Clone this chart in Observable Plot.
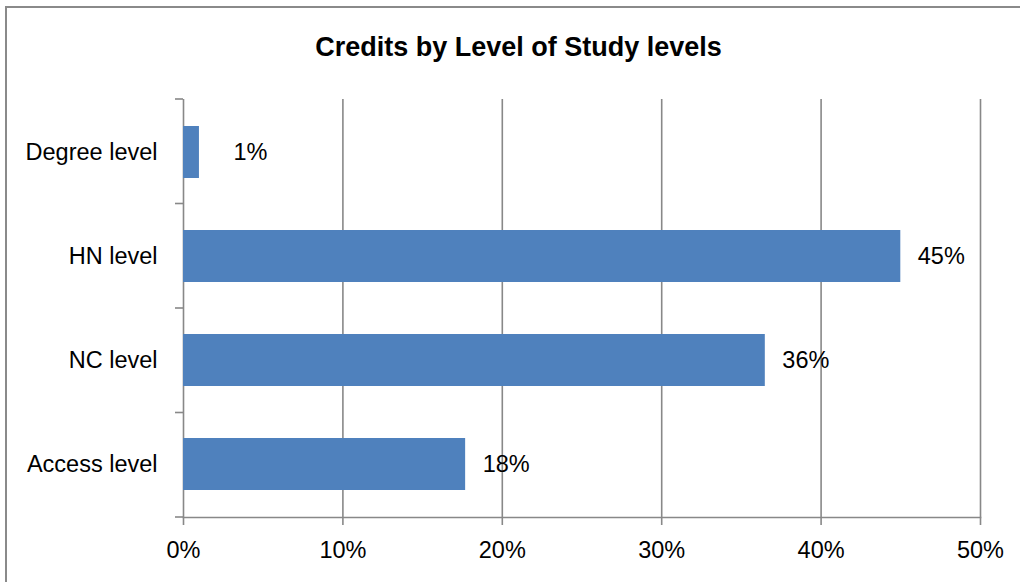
<!DOCTYPE html>
<html>
<head>
<meta charset="utf-8">
<script src="https://cdn.jsdelivr.net/npm/d3@7"></script>
<script src="https://cdn.jsdelivr.net/npm/@observablehq/plot@0.6"></script>
<style>
  html, body { margin: 0; padding: 0; background: #fff; overflow: hidden; }
  #wrap { position: relative; width: 1020px; height: 582px; overflow: hidden; font-family: "Liberation Sans", Arial, sans-serif; }
  #border { position: absolute; left: 5px; top: 6px; width: 1100px; height: 700px; border: 2px solid #8a8a8a; box-sizing: border-box; }
  #title { position: absolute; left: 0; top: 0; width: 1037px; height: 70px; text-align: center; line-height: 94px; font-weight: bold; font-size: 27px; color: #000; }
  #chart { position: absolute; left: 0; top: 70px; }
</style>
</head>
<body>
<div id="wrap">
  <div id="border"></div>
  <div id="title">Credits by Level of Study levels</div>
  <div id="chart"></div>
</div>
<script>
const categories = ["Degree level", "HN level", "NC level", "Access level"];
const values = [1, 45, 36.5, 17.7];
const labels = ["1%", "45%", "36%", "18%"];
const xTicks = [0, 10, 20, 30, 40, 50];

const data = categories.map((c, i) => ({cat: c, value: values[i], label: labels[i]}));
const small = data.filter(d => d.value < 5);
const big = data.filter(d => d.value >= 5);

const grid = "#888888";
const font = "Liberation Sans, Arial, sans-serif";
const fs = 23.5;

const plot = Plot.plot({
  width: 1020,
  height: 512,
  marginLeft: 183,
  marginRight: 40,
  marginTop: 29,
  marginBottom: 65,
  style: {fontFamily: font, fontSize: fs + "px", color: "#000", background: "transparent", overflow: "visible"},
  x: {domain: [0, 50], ticks: xTicks, tickFormat: d => d + "%"},
  y: {domain: categories, paddingInner: 0.5, paddingOuter: 0.25},
  marks: [
    Plot.gridX(xTicks, {stroke: grid, strokeOpacity: 1, strokeWidth: 1.6}),
    Plot.frame({anchor: "bottom", stroke: grid, strokeWidth: 1.6}),
    Plot.barX(data, {x: "value", y: "cat", fill: "#4F81BD"}),
    Plot.text(big, {x: "value", y: "cat", text: "label", textAnchor: "start", dx: 17, fontSize: fs, fill: "#000"}),
    Plot.text(small, {x: "value", y: "cat", text: "label", textAnchor: "start", dx: 34, fontSize: fs, fill: "#000"}),
    Plot.axisX({ticks: xTicks, tickFormat: d => d + "%", tickSize: 8, tickPadding: 16, stroke: grid, strokeWidth: 1.6, label: null, fontSize: fs}),
    Plot.axisY({tickSize: 0, tickPadding: 26, label: null, fontSize: fs})
  ]
});

document.getElementById("chart").appendChild(plot);

// boundary ticks on the category axis, from the plot's own y scale
const ys = plot.scale("y");
const xs = plot.scale("x");
const [r0, r1] = ys.range;
const n = categories.length;
const x0 = xs.apply(0);
const svg = d3.select(plot);
const g = svg.append("g").attr("stroke", grid).attr("stroke-width", 1.6);
for (let i = 0; i <= n; i++) {
  const y = r0 + (r1 - r0) * i / n;
  g.append("line").attr("x1", x0 - 8).attr("x2", x0).attr("y1", y).attr("y2", y);
}
</script>
</body>
</html>
